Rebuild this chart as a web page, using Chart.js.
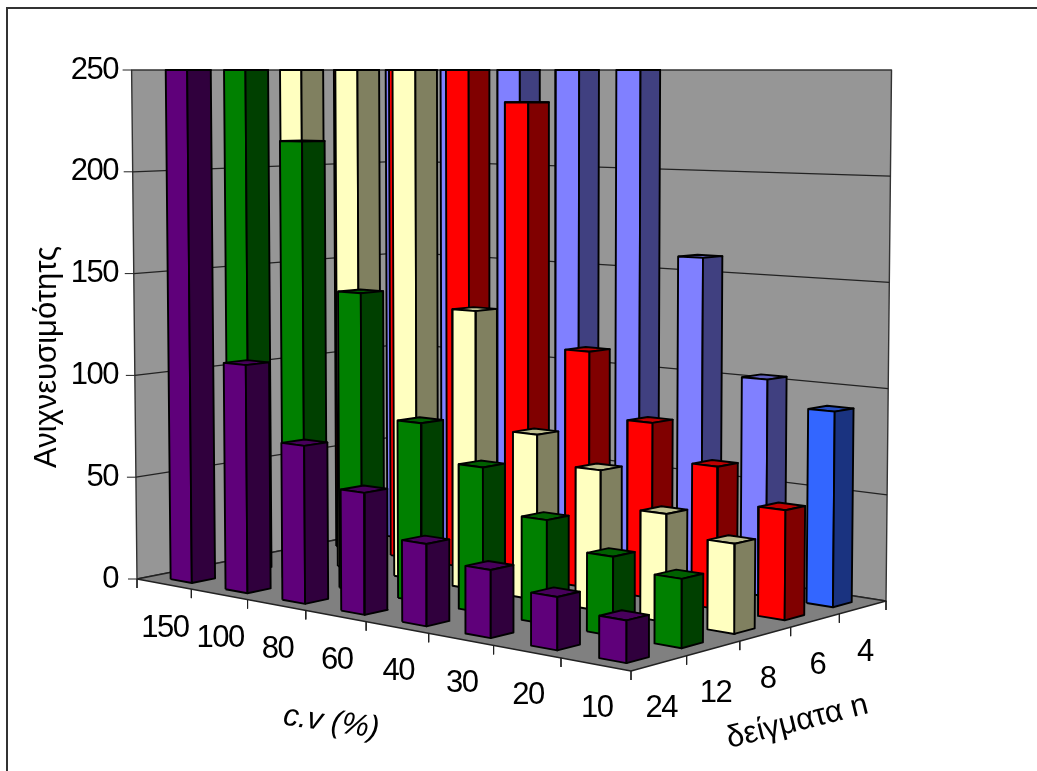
<!DOCTYPE html>
<html>
<head>
<meta charset="utf-8">
<title>Ανιχνευσιμότητα</title>
<script src="https://cdn.jsdelivr.net/npm/chart.js@4/dist/chart.umd.min.js"></script>
<style>
html,body{margin:0;padding:0;background:#fff}
canvas{display:block}
</style>
</head>
<body>
<canvas id="c" width="1037" height="771"></canvas>
<script>
const cvLabels=["150","100","80","60","40","30","20","10"]
const nLabels=["24","12","8","6","4"]
const yTicks=[0,50,100,150,200,250]

// values per sample size, same order as cvLabels (250 = cut off at axis top)
const n24=[250,109,74,56,37,30,23,18]
const n12=[250,215,143,84,67,47,35,30]
const n8=[250,250,250,134,78,65,49,40]
const n6=[250,250,250,234,114,83,66,50]
const n4=[250,250,250,250,250,159,103,91]

const series=[n24,n12,n8,n6,n4]
const fronts=["#5f007a","#008000","#ffffc0","#ff0000","#8080ff"]
const sides=["#30003d","#004000","#808060","#800000","#404080"]
const tops=["#48005c","#006000","#bfbf90","#bf0000","#6060bf"]
const lastFront="#3366ff",lastSide="#1a3380",lastTop="#264dbf"

// floor corners of the 3d box on screen, everything else is derived from them
const Y0=579,Y250=70,PX=(Y0-Y250)/250
const quad=[[137,579],[631,671],[886,601],[406,526]]

function makeFloor(){
  const [[x0,y0],[x1,y1],[x2,y2],[x3,y3]]=quad
  const dx1=x1-x2,dx2=x3-x2,sx=x0-x1+x2-x3
  const dy1=y1-y2,dy2=y3-y2,sy=y0-y1+y2-y3
  const den=dx1*dy2-dx2*dy1
  const g=(sx*dy2-dx2*sy)/den,h=(dx1*sy-sx*dy1)/den
  const a=x1-x0+g*x1,b=x3-x0+h*x3,d=y1-y0+g*y1,e=y3-y0+h*y3
  return (u,v)=>{
    const s=u/cvLabels.length,t=v/nLabels.length,w=g*s+h*t+1
    return [(a*s+b*t+x0)/w,(d*s+e*t+y0)/w]
  }
}
const floor=makeFloor()

// u along c.v, v along n, val in axis units; returns x/y in chart scale units
function project(u,v,val){
  const [bx,by]=floor(u,v)
  const f=val/250
  const x=bx+(bx-515)*2.8e-5*(by-Y250)*f
  const y=Y250+(by-Y250)*(1-f)
  return {x,y:(Y0-y)/PX}
}

function poly(points,fillColor,lineColor,width){
  return {
    data:points,
    fill:fillColor?"shape":false,
    backgroundColor:fillColor||"transparent",
    borderColor:lineColor,
    borderWidth:width,
    pointRadius:0,
    tension:0,
    clip:false,
    borderJoinStyle:"round"
  }
}
function closed(a){return a.concat([a[0]])}

const datasets=[]
const U=cvLabels.length,V=nLabels.length

// walls and floor
datasets.push(poly(closed([project(0,0,0),project(0,0,250),project(0,V,250),project(0,V,0)]),"#969696","#333",1.4))
datasets.push(poly(closed([project(0,V,0),project(0,V,250),project(U,V,250),project(U,V,0)]),"#969696","#333",1.4))
datasets.push(poly(closed([project(0,0,0),project(U,0,0),project(U,V,0),project(0,V,0)]),"#808080","#222",1.4))
yTicks.slice(1,-1).forEach(t=>{
  datasets.push(poly([project(0,0,t),project(0,V,t),project(U,V,t)],null,"#222",1.2))
})

// tick marks
yTicks.forEach(t=>{
  const p=project(0,0,t)
  datasets.push(poly([{x:p.x-9,y:p.y},p],null,"#222",1))
})
const tickDrop=9/PX
for(let i=0;i<=U;i++){
  const p=project(i,0,0)
  datasets.push(poly([p,{x:p.x,y:p.y-tickDrop}],null,"#222",1))
}
for(let j=1;j<=V;j++){
  const p=project(U,j,0)
  datasets.push(poly([p,{x:p.x,y:p.y-tickDrop}],null,"#222",1))
}

// bars, back row first and left to right so nearer bars paint over
for(let j=V-1;j>=0;j--){
  for(let i=0;i<U;i++){
    const val=series[j][i]
    const u0=i+.33,u1=i+.72,v0=j+.27,v1=j+.67
    const last=j===V-1&&i===U-1
    const f=last?lastFront:fronts[j],s=last?lastSide:sides[j],t=last?lastTop:tops[j]
    datasets.push(poly(closed([project(u0,v0,val),project(u1,v0,val),project(u1,v1,val),project(u0,v1,val)]),t,"#000",1.9))
    datasets.push(poly(closed([project(u0,v0,0),project(u1,v0,0),project(u1,v0,val),project(u0,v0,val)]),f,"#000",1.9))
    datasets.push(poly(closed([project(u1,v0,0),project(u1,v1,0),project(u1,v1,val),project(u1,v0,val)]),s,"#000",1.9))
  }
}
// the library paints dataset 0 last
datasets.forEach((d,i)=>{d.order=datasets.length-i})

const FONT='"Liberation Sans", Arial, sans-serif'
const SIZE=31
const TIGHT="-1.5px"

const labels3d={
  id:"labels3d",
  beforeDraw(chart){
    const ctx=chart.ctx
    ctx.save()
    ctx.strokeStyle="#333"
    ctx.lineWidth=2
    ctx.beginPath()
    ctx.moveTo(7,771)
    ctx.lineTo(7,8)
    ctx.lineTo(1037,8)
    ctx.stroke()
    ctx.restore()
    ctx.letterSpacing=TIGHT
  },
  afterDraw(chart){
    const ctx=chart.ctx,xs=chart.scales.x,ys=chart.scales.y
    const text=(str,p,dx,dy,font,rot,sp)=>{
      ctx.save()
      ctx.translate(xs.getPixelForValue(p.x)+dx,ys.getPixelForValue(p.y)+dy)
      ctx.rotate(rot||0)
      ctx.font=font
      ctx.letterSpacing=sp||"0px"
      ctx.fillStyle="#000"
      ctx.textAlign="center"
      ctx.textBaseline="middle"
      ctx.fillText(str,0,0)
      ctx.restore()
    }
    const f=SIZE+"px "+FONT
    cvLabels.forEach((l,i)=>text(l,project(i+.5,0,0),1,44,f,0,TIGHT))
    nLabels.forEach((l,j)=>text(l,project(U,j+.5,0),2,45,f,0,TIGHT))
    text("c.v (%)",project(U/2,0,0),-35,101,"italic "+f,8*Math.PI/180)
    text("δείγματα n",project(U,V/2,0),32,88,f,-14*Math.PI/180)
    text("Ανιχνευσιμότητς",project(0,0,0),-90,-222,f,-Math.PI/2)
  }
}

new Chart(document.getElementById("c"),{
  type:"line",
  data:{datasets},
  plugins:[labels3d],
  options:{
    responsive:false,
    animation:false,
    events:[],
    layout:{padding:{bottom:56}},
    plugins:{legend:{display:false},tooltip:{enabled:false}},
    scales:{
      x:{type:"linear",display:false,min:131,max:1037},
      y:{
        type:"linear",
        min:-(715-Y0)/PX,
        max:250+Y250/PX,
        afterBuildTicks(s){s.ticks=yTicks.map(value=>({value}))},
        afterFit(s){s.width=131;s.paddingTop=0;s.paddingBottom=0},
        grid:{display:false,drawTicks:false},
        border:{display:false},
        ticks:{padding:13,color:"#000",font:{family:FONT,size:SIZE},autoSkip:false,maxRotation:0}
      }
    }
  }
})
</script>
</body>
</html>
